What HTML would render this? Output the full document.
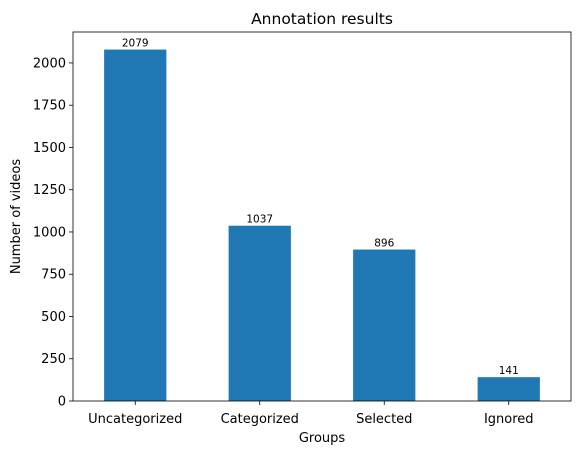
<!DOCTYPE html>
<html><head><meta charset="utf-8"><style>
body{margin:0;background:#fff;font-family:"Liberation Sans","DejaVu Sans",sans-serif;}
text{font-family:"DejaVu Sans","Liberation Sans",sans-serif;}
</style></head><body>
<svg id="chart" width="580" height="455" xmlns="http://www.w3.org/2000/svg"></svg>
<script>
const categories = ["Uncategorized","Categorized","Selected","Ignored"];
const values = [2079,1037,896,141];
const yTicks = [0,250,500,750,1000,1250,1500,1750,2000];
const NS="http://www.w3.org/2000/svg";
const svg=document.getElementById('chart');
const L=73,R=571,T=32,B=401;
const yMax=2183;
const y=v=>B-(v/yMax)*(B-T);
const x=i=>L+(i+0.5)/4*(R-L);
const bw=0.5/4*(R-L);
function mk(tag,attrs,txt){const e=document.createElementNS(NS,tag);for(const k in attrs)e.setAttribute(k,attrs[k]);if(txt!==undefined)e.textContent=txt;svg.appendChild(e);return e;}
values.forEach((v,i)=>{
  const r=mk('rect',{x:x(i)-bw/2,y:y(v),width:bw,height:B-y(v),fill:'#1f77b4'});
  
  
  const t=mk('text',{x:x(i),y:y(v)-3,'text-anchor':'middle','font-size':'10.5'},String(v));
  
  
  mk('line',{x1:x(i),x2:x(i),y1:B,y2:B+4,stroke:'#000','stroke-width':0.8});
  const c=mk('text',{x:x(i),y:B+22,'text-anchor':'middle','font-size':'13'},categories[i]);
  
  
});
yTicks.forEach(v=>{
  mk('line',{x1:L-4,x2:L,y1:y(v),y2:y(v),stroke:'#000','stroke-width':0.8});
  const t=mk('text',{x:L-7,y:y(v)+4.5,'text-anchor':'end','font-size':'13'},String(v));
  
  
});
const ax=mk('rect',{x:L,y:T,width:R-L,height:B-T,fill:'none',stroke:'#000','stroke-width':0.8});


const ti=mk('text',{x:(L+R)/2,y:T-8,'text-anchor':'middle','font-size':'15.5'},'Annotation results');


const xt=mk('text',{x:(L+R)/2,y:442,'text-anchor':'middle','font-size':'13'},'Groups');


const yt=mk('text',{x:20,y:(T+B)/2,'text-anchor':'middle','font-size':'13',transform:'rotate(-90 20 '+((T+B)/2)+')'},'Number of videos');


</script>
</body></html>
